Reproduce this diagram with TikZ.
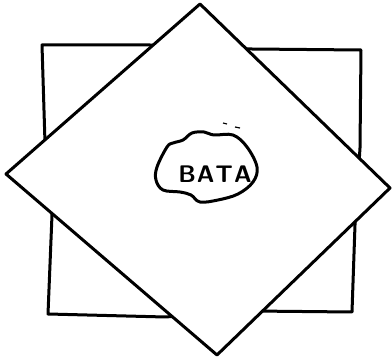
\documentclass[tikz,border=0pt]{standalone}
\begin{document}
\begin{tikzpicture}[x=1pt,y=-1pt,
  ink/.style={draw=black,line width=3pt,line join=round,line cap=round}]
\useasboundingbox (0,0) rectangle (392,361);
% back square
\draw[ink] (42,45) -- (150,45) -- (252,49) -- (361,50) -- (360,148) -- (355,225) -- (352,312) -- (252,311) -- (165,317) -- (48,314) -- (52,215) -- (45,143) -- cycle;
% front diamond
\draw[ink,fill=white] (200,4) -- (390,188) -- (217,355) -- (6,174) -- cycle;
% blob
\draw[ink] plot[smooth cycle,tension=0.6] coordinates {(157,167) (167,147) (173,143) (183,140) (192,133) (204,132) (214,135) (233,135) (247,147) (257,167) (253,182) (238,194) (218,200) (200,202) (191,195) (180,192) (163,190) (156,180)};
\node[font=\sffamily\bfseries\fontsize{24}{24}\selectfont] (data) at (215,174) {B\kern1pt A\kern1pt T\kern1pt A};
% stray marks
\draw[line width=1.2pt] (223,123) -- (227,124);
\draw[line width=1.2pt] (235,127) -- (240,128);
\end{tikzpicture}
\end{document}
